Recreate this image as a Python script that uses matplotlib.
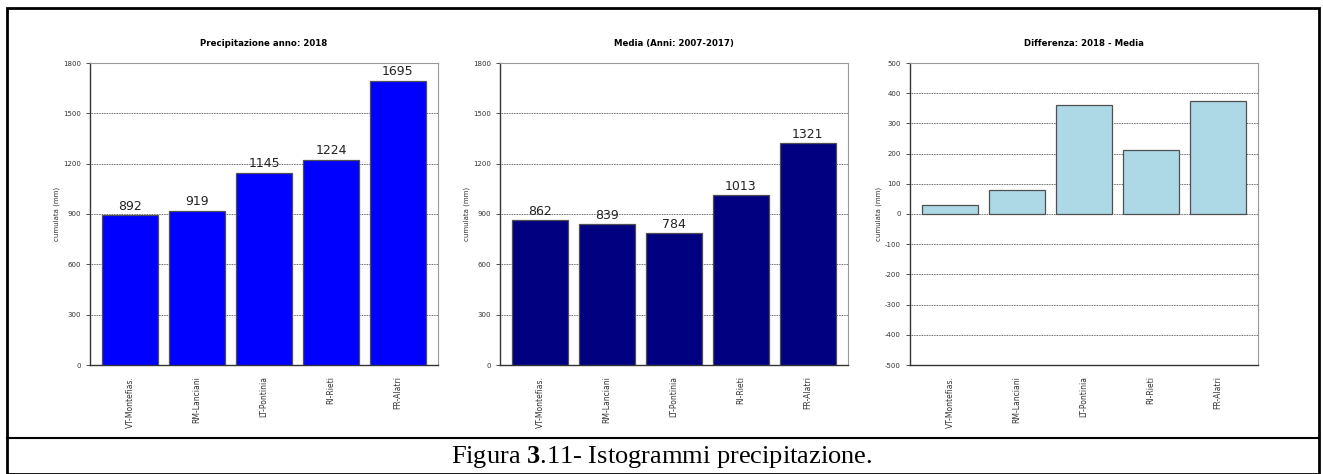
import numpy as np
import matplotlib.pyplot as plt
from matplotlib.patches import Rectangle
from matplotlib.lines import Line2D

plt.rcParams['axes.unicode_minus'] = False
plt.rcParams['mathtext.fontset'] = 'custom'
plt.rcParams['mathtext.rm'] = 'Liberation Serif'
plt.rcParams['mathtext.bf'] = 'Liberation Serif:bold'

# stations and cumulated precipitation (mm)
stations = ["VT-Montefias.", "RM-Lanciani", "LT-Pontinia", "RI-Rieti", "FR-Alatri"]
prec_2018 = [892, 919, 1145, 1224, 1695]
media = [862, 839, 784, 1013, 1321]
diff = [p - m for p, m in zip(prec_2018, media)]

titles = ["Precipitazione anno: 2018", "Media (Anni: 2007-2017)", "Differenza: 2018 - Media"]
colors = ["#0000ff", "#000080", "#add8e6"]
ylims = [(0, 1800), (0, 1800), (-500, 500)]
yticks = [np.arange(0, 1801, 300), np.arange(0, 1801, 300), np.arange(-500, 501, 100)]
series = [prec_2018, media, diff]
show_vals = [True, True, False]

W, H = 1323, 474
fig = plt.figure(figsize=(W/100, H/100), dpi=100)

# axes positions in pixels
lefts = [90, 500, 910]
width = 348
top, bottom = 63, 365

x = np.arange(len(stations))
for i in range(3):
    ax = fig.add_axes([lefts[i]/W, 1 - bottom/H, width/W, (bottom - top)/H])
    ax.bar(x, series[i], width=0.83, color=colors[i], edgecolor="#505050", linewidth=0.9, zorder=3)
    ax.set_xlim(-0.6, 4.6)
    ax.set_ylim(*ylims[i])
    ax.set_yticks(yticks[i])
    ax.set_xticks(x)
    ax.set_xticklabels(stations, rotation=90, fontsize=5.5, color="#333333")
    ax.tick_params(axis="y", labelsize=5, colors="#333333", length=3, width=0.6)
    ax.tick_params(axis="x", length=0, pad=8)
    ax.yaxis.grid(True, linestyle=(0, (1, 1)), color="#333333", linewidth=0.6, zorder=0)
    ax.set_ylabel("cumulata (mm)", fontsize=5, color="#333333", labelpad=2)
    ax.set_title(titles[i], fontsize=6.2, fontweight="bold", pad=12)
    for s in ["top", "right"]:
        ax.spines[s].set_color("#999999")
        ax.spines[s].set_linewidth(0.8)
    for s in ["left", "bottom"]:
        ax.spines[s].set_color("#333333")
        ax.spines[s].set_linewidth(1.0)
    if show_vals[i]:
        for xi, v in zip(x, series[i]):
            ax.text(xi, v + 15, str(v), ha="center", va="bottom", fontsize=9, color="#222222", zorder=4)

# outer frame and caption line
fig.patches.append(Rectangle((7/W, 0.5/H), (1319 - 7)/W, (H - 8 - 0.5)/H, transform=fig.transFigure,
                             fill=False, edgecolor="black", linewidth=2))
fig.lines.append(Line2D([7/W, 1319/W], [1 - 438/H, 1 - 438/H], transform=fig.transFigure,
                        color="black", linewidth=1.5))
fig.text(0.5, 1 - 457/H, r"Figura $\mathbf{3}$.11- Istogrammi precipitazione.", ha="center", va="center",
         fontsize=19, family="Liberation Serif")

fig.savefig("out.png", dpi=100)
